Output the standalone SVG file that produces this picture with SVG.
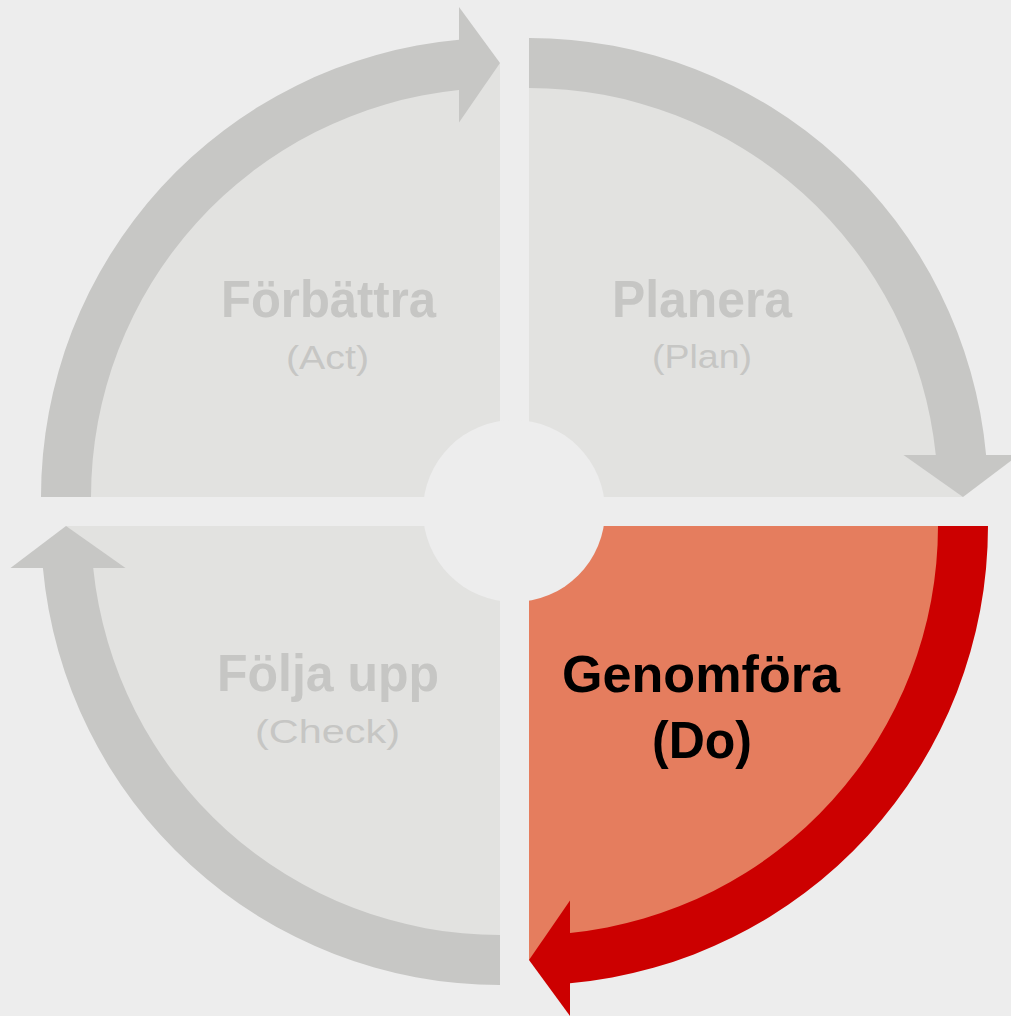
<svg xmlns="http://www.w3.org/2000/svg" width="1011" height="1016" viewBox="0 0 1011 1016">
  <style>
    .bg { fill: #ededed; }
    .sector { fill: #e2e2e0; }
    .sector-active { fill: #e57d5e; }
    .ring { fill: #c7c7c5; }
    .ring-active { fill: #cc0000; }
    .title { font-family: "Liberation Sans", Arial, sans-serif; font-weight: bold; font-size: 52px; }
    .sub { font-family: "Liberation Sans", Arial, sans-serif; font-weight: normal; font-size: 33px; }
    .muted { fill: #c6c6c4; }
    .dark { fill: #000000; }
  </style>

  <rect class="bg" x="0" y="0" width="1011" height="1016"/>

  <!-- Act (top-left) -->
  <g id="act">
    <path class="sector" d="M500,497 L66,497 A434,434 0 0 1 500,63 Z"/>
    <path class="ring" d="M41,497 A459,459 0 0 1 459,39.8 L459,90.1 A409,409 0 0 0 91,497 Z"/>
    <polygon class="ring" points="459,7 459,122.5 500,63"/>
    <text class="title muted" x="221" y="317" textLength="215" lengthAdjust="spacingAndGlyphs">Förbättra</text>
    <text class="sub muted" x="286" y="369" textLength="83" lengthAdjust="spacingAndGlyphs">(Act)</text>
  </g>

  <!-- Plan (top-right) -->
  <g id="plan">
    <path class="sector" d="M529,497 L529,63 A434,434 0 0 1 963,497 Z"/>
    <path class="ring" d="M529,38 A459,459 0 0 1 986.1,455 L935.8,455 A409,409 0 0 0 529,88 Z"/>
    <polygon class="ring" points="903.5,455 1018.5,455 963,497"/>
    <text class="title muted" x="612" y="317" textLength="180" lengthAdjust="spacingAndGlyphs">Planera</text>
    <text class="sub muted" x="652" y="368" textLength="100" lengthAdjust="spacingAndGlyphs">(Plan)</text>
  </g>

  <!-- Do (bottom-right, highlighted) -->
  <g id="do">
    <path class="sector-active" d="M529,526 L963,526 A434,434 0 0 1 529,960 Z"/>
    <path class="ring-active" d="M988,526 A459,459 0 0 1 570,983.2 L570,932.9 A409,409 0 0 0 938,526 Z"/>
    <polygon class="ring-active" points="570,900.5 570,1016 529,960"/>
    <text class="title dark" x="562" y="692" font-size="48" textLength="278" lengthAdjust="spacingAndGlyphs">Genomföra</text>
    <text class="title dark" x="652" y="758" font-size="48" textLength="100" lengthAdjust="spacingAndGlyphs">(Do)</text>
  </g>

  <!-- Check (bottom-left) -->
  <g id="check">
    <path class="sector" d="M500,526 L500,960 A434,434 0 0 1 66,526 Z"/>
    <path class="ring" d="M500,985 A459,459 0 0 1 42.9,568 L93.2,568 A409,409 0 0 0 500,935 Z"/>
    <polygon class="ring" points="10.5,568 125.5,568 66,526"/>
    <text class="title muted" x="217" y="691" textLength="222" lengthAdjust="spacingAndGlyphs">Följa upp</text>
    <text class="sub muted" x="255" y="743" textLength="145" lengthAdjust="spacingAndGlyphs">(Check)</text>
  </g>

  <!-- hub -->
  <g id="hub">
    <circle class="bg" cx="514" cy="511" r="91"/>
  </g>
</svg>
